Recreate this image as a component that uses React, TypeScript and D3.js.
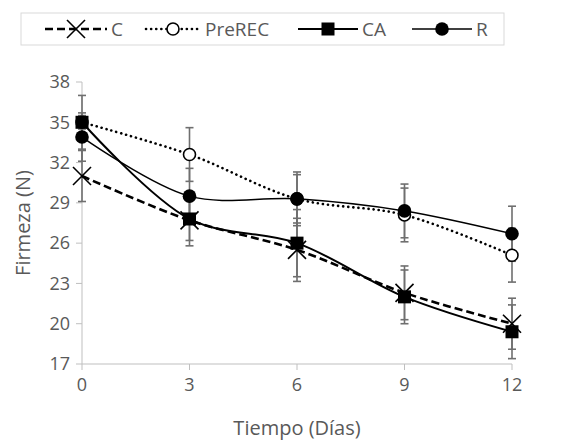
import React from "react";
import * as d3 from "d3";

const days = [0, 3, 6, 9, 12];
const yTicks = [17, 20, 23, 26, 29, 32, 35, 38];
const seriesNames = ["C", "PreREC", "CA", "R"];
const cValues = [31.0, 27.7, 25.5, 22.3, 20.0];
const cErrors = [1.9, 1.5, 2.35, 2.0, 1.9];
const preValues = [35.0, 32.6, 29.3, 28.1, 25.1];
const preErrors = [0.5, 2.0, 1.8, 2.0, 2.0];
const caValues = [35.0, 27.8, 26.0, 22.0, 19.4];
const caErrors = [2.0, 2.0, 2.5, 2.0, 2.0];
const rValues = [33.9, 29.5, 29.3, 28.4, 26.7];
const rErrors = [1.8, 2.07, 2.0, 2.0, 2.05];

const W = 572, H = 443;
const left = 82, right = 512, top = 82, bottom = 364;
const font = "'Open Sans', 'Noto Sans', sans-serif";
const textColor = "#595959";

type Series = { name: string; values: number[]; errors: number[]; dash: string; width: number; marker: string; cap: string };

const series: Series[] = [
  { name: seriesNames[0], values: cValues, errors: cErrors, dash: "8,4", width: 2.6, marker: "x", cap: "butt" },
  { name: seriesNames[1], values: preValues, errors: preErrors, dash: "0.1,5", width: 2.6, marker: "open", cap: "round" },
  { name: seriesNames[2], values: caValues, errors: caErrors, dash: "", width: 2, marker: "square", cap: "butt" },
  { name: seriesNames[3], values: rValues, errors: rErrors, dash: "", width: 1.5, marker: "dot", cap: "butt" },
];

function Marker({ kind, x, y }: { kind: string; x: number; y: number }) {
  if (kind === "x") {
    const s = 9;
    return (
      <g stroke="#000" strokeWidth={1.6}>
        <line x1={x - s} y1={y - s} x2={x + s} y2={y + s} />
        <line x1={x - s} y1={y + s} x2={x + s} y2={y - s} />
      </g>
    );
  }
  if (kind === "open") {
    return <circle cx={x} cy={y} r={6} fill="#fff" stroke="#000" strokeWidth={1.6} />;
  }
  if (kind === "square") {
    return <rect x={x - 6.5} y={y - 6.5} width={13} height={13} fill="#000" />;
  }
  return <circle cx={x} cy={y} r={6.8} fill="#000" />;
}

export default function App() {
  const x = d3.scaleLinear().domain([0, 12]).range([left, right]);
  const y = d3.scaleLinear().domain([17, 38]).range([bottom, top]);
  const line = d3
    .line<number>()
    .x((_, i) => x(days[i]))
    .y((d) => y(d))
    .curve(d3.curveCatmullRom.alpha(0.5));

  const legendItems = [
    { s: series[0], x1: 45, x2: 107, tx: 111 },
    { s: series[1], x1: 146, x2: 200, tx: 205 },
    { s: series[2], x1: 298, x2: 358, tx: 362 },
    { s: series[3], x1: 412, x2: 472, tx: 476 },
  ];

  return (
    <svg width={W} height={H} style={{ position: "absolute", left: 0, top: 0 }} fontFamily={font}>
      <rect width={W} height={H} fill="#fff" />
      <rect x={21} y={13} width={483} height={32} fill="#fff" stroke="#d9d9d9" strokeWidth={1} />
      {legendItems.map((it) => {
        const cy = 29;
        return (
          <g key={it.s.name}>
            <line x1={it.x1} x2={it.x2} y1={cy} y2={cy} stroke="#000" strokeWidth={it.s.width} strokeDasharray={it.s.dash || undefined} strokeLinecap={it.s.cap as any} />
            <Marker kind={it.s.marker} x={(it.x1 + it.x2) / 2} y={cy} />
            <text x={it.tx} y={cy} dy="0.35em" fontSize={19} fill={textColor}>{it.s.name}</text>
          </g>
        );
      })}
      <line x1={left} x2={left} y1={top} y2={bottom} stroke="#bfbfbf" strokeWidth={1} />
      <line x1={left} x2={right} y1={bottom} y2={bottom} stroke="#bfbfbf" strokeWidth={1} />
      {yTicks.map((t) => (
        <g key={"y" + t}>
          <line x1={left - 6} x2={left} y1={y(t)} y2={y(t)} stroke="#bfbfbf" />
          <text x={left - 12} y={y(t)} dy="0.35em" textAnchor="end" fontSize={18} fill={textColor}>{t}</text>
        </g>
      ))}
      {days.map((t) => (
        <g key={"x" + t}>
          <line x1={x(t)} x2={x(t)} y1={bottom} y2={bottom + 6} stroke="#bfbfbf" />
          <text x={x(t)} y={bottom + 21} dy="0.35em" textAnchor="middle" fontSize={18} fill={textColor}>{t}</text>
        </g>
      ))}
      <text x={297} y={428} dy="0.35em" textAnchor="middle" fontSize={20} fill={textColor}>Tiempo (Días)</text>
      <text transform={`translate(23,223) rotate(-90)`} dy="0.35em" textAnchor="middle" fontSize={20} fill={textColor}>Firmeza (N)</text>
      {series.map((s) => (
        <g key={"e" + s.name} stroke="#6f6f6f" strokeWidth={1.6}>
          {s.values.map((v, i) => (
            <g key={i}>
              <line x1={x(days[i])} x2={x(days[i])} y1={y(v - s.errors[i])} y2={y(v + s.errors[i])} />
              <line x1={x(days[i]) - 4} x2={x(days[i]) + 4} y1={y(v - s.errors[i])} y2={y(v - s.errors[i])} />
              <line x1={x(days[i]) - 4} x2={x(days[i]) + 4} y1={y(v + s.errors[i])} y2={y(v + s.errors[i])} />
            </g>
          ))}
        </g>
      ))}
      {series.map((s) => (
        <path key={"l" + s.name} d={line(s.values) || ""} fill="none" stroke="#000" strokeWidth={s.width} strokeDasharray={s.dash || undefined} strokeLinecap={s.cap as any} />
      ))}
      {series.map((s) => (
        <g key={"m" + s.name}>
          {s.values.map((v, i) => (
            <Marker key={i} kind={s.marker} x={x(days[i])} y={y(v)} />
          ))}
        </g>
      ))}
    </svg>
  );
}
